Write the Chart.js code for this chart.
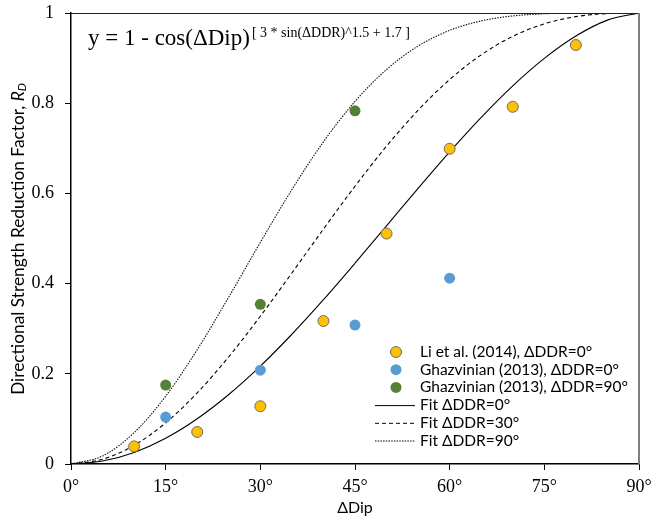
<!DOCTYPE html>
<html>
<head>
<meta charset="utf-8">
<script src="https://cdn.jsdelivr.net/npm/chart.js@4"></script>
<style>
html,body{margin:0;padding:0;background:#fff;}
#wrap{width:652px;height:521px;position:relative;}
</style>
</head>
<body>
<div id="wrap"><canvas id="c" width="652" height="521"></canvas></div>
<script>
// ---- data ----
const xTickLabels = ['0°','15°','30°','45°','60°','75°','90°'];
const yTickLabels = ['0','0.2','0.4','0.6','0.8','1'];

const liDip = [10, 20, 30, 40, 50, 60, 70, 80];
const liRD  = [0.039, 0.071, 0.128, 0.317, 0.511, 0.699, 0.792, 0.929];

const ghaz0Dip = [15, 30, 45, 60];
const ghaz0RD  = [0.104, 0.208, 0.308, 0.412];

const ghaz90Dip = [15, 30, 45];
const ghaz90RD  = [0.175, 0.354, 0.783];

const fitDip   = [0, 5, 10, 15, 20, 25, 30, 35, 40, 45, 50, 55, 60, 65, 70, 75, 80, 85, 90];
const fitDDR0  = [0, 0.0065, 0.0257, 0.0572, 0.1003, 0.1540, 0.2169, 0.2877, 0.3643, 0.4452, 0.5282, 0.6113, 0.6922, 0.7687, 0.8386, 0.8995, 0.9490, 0.9842, 1];
const fitDDR30 = [0, 0.0105, 0.0414, 0.0913, 0.1578, 0.2378, 0.3277, 0.4235, 0.5209, 0.6159, 0.7048, 0.7845, 0.8524, 0.9072, 0.9483, 0.9760, 0.9920, 0.9988, 1];
const fitDDR90 = [0, 0.0178, 0.0694, 0.1504, 0.2535, 0.3702, 0.4914, 0.6084, 0.7143, 0.8039, 0.8747, 0.9267, 0.9615, 0.9825, 0.9935, 0.9983, 0.9997, 1.0, 1];

const seriesNames = ['Li et al. (2014), ΔDDR=0°', 'Ghazvinian (2013), ΔDDR=0°', 'Ghazvinian (2013), ΔDDR=90°',
                     'Fit ΔDDR=0°', 'Fit ΔDDR=30°', 'Fit ΔDDR=90°'];

const pts = (xs, ys) => xs.map((x, i) => ({x: x, y: ys[i]}));

const SANS = 'Lato, "Open Sans", sans-serif';
const SERIF = '"Liberation Serif", "DejaVu Serif", serif';

const datasets = [
  {label: seriesNames[0], data: pts(liDip, liRD), showLine: false, pointRadius: 5.5, pointHoverRadius: 5.5,
   backgroundColor: '#FFC000', borderColor: '#6d6d6d', borderWidth: 1, order: 0},
  {label: seriesNames[1], data: pts(ghaz0Dip, ghaz0RD), showLine: false, pointRadius: 5.5, pointHoverRadius: 5.5,
   backgroundColor: '#5B9BD5', borderColor: '#5B9BD5', borderWidth: 0, order: 0},
  {label: seriesNames[2], data: pts(ghaz90Dip, ghaz90RD), showLine: false, pointRadius: 5.5, pointHoverRadius: 5.5,
   backgroundColor: '#548235', borderColor: '#548235', borderWidth: 0, order: 0},
  {label: seriesNames[3], data: pts(fitDip, fitDDR0), showLine: true, pointRadius: 0, borderColor: '#000', borderWidth: 1.1,
   cubicInterpolationMode: 'monotone', fill: false, order: 1},
  {label: seriesNames[4], data: pts(fitDip, fitDDR30), showLine: true, pointRadius: 0, borderColor: '#000', borderWidth: 1.1,
   borderDash: [4, 3], cubicInterpolationMode: 'monotone', fill: false, order: 1},
  {label: seriesNames[5], data: pts(fitDip, fitDDR90), showLine: true, pointRadius: 0, borderColor: '#111', borderWidth: 1.1,
   borderDash: [1.5, 1.2], cubicInterpolationMode: 'monotone', fill: false, order: 1}
];

const decor = {
  id: 'decor',
  afterDraw(chart) {
    const ctx = chart.ctx, a = chart.chartArea;
    ctx.save();
    // top & right frame
    ctx.strokeStyle = '#222'; ctx.lineWidth = 1;
    ctx.beginPath(); ctx.moveTo(a.left, a.top + 0.5); ctx.lineTo(a.right, a.top + 0.5); ctx.stroke();
    ctx.strokeStyle = '#7f7f7f'; ctx.lineWidth = 2;
    ctx.beginPath(); ctx.moveTo(a.right, a.top); ctx.lineTo(a.right, a.bottom); ctx.stroke();

    // equation
    ctx.fillStyle = '#000';
    ctx.textBaseline = 'alphabetic'; ctx.textAlign = 'left';
    ctx.font = '23px ' + SERIF;
    const eq = 'y = 1 - cos(ΔDip)';
    ctx.fillText(eq, 88, 45);
    const w = ctx.measureText(eq).width;
    ctx.font = '14px ' + SERIF;
    ctx.fillText('[ 3 * sin(ΔDDR)^1.5 + 1.7 ]', 88 + w + 2, 37);

    // x title
    ctx.font = '16px ' + SANS; ctx.textAlign = 'center'; ctx.textBaseline = 'middle';
    ctx.fillText('ΔDip', 355, 508);

    // y title (rotated)
    ctx.save();
    ctx.translate(18, 239);
    ctx.rotate(-Math.PI / 2);
    const main = 'Directional Strength Reduction Factor, ';
    ctx.font = '17.3px ' + SANS;
    const mw = ctx.measureText(main).width;
    ctx.font = 'italic 17.3px ' + SANS;
    const rw = ctx.measureText('R').width;
    ctx.font = 'italic 11.5px ' + SANS;
    const dw = ctx.measureText('D').width;
    let x0 = -(mw + rw + dw) / 2;
    ctx.textAlign = 'left'; ctx.textBaseline = 'middle';
    ctx.font = '17.3px ' + SANS; ctx.fillText(main, x0, 0);
    ctx.font = 'italic 17.3px ' + SANS; ctx.fillText('R', x0 + mw, 0);
    ctx.font = 'italic 11.5px ' + SANS; ctx.fillText('D', x0 + mw + rw, 4);
    ctx.restore();

    // legend
    const rows = [352, 369.7, 387.4, 405.1, 422.8, 440.5];
    ctx.font = '15.5px ' + SANS; ctx.textAlign = 'left'; ctx.textBaseline = 'middle';
    for (let i = 0; i < 6; i++) {
      const d = chart.data.datasets[i], y = rows[i];
      if (i < 3) {
        ctx.beginPath(); ctx.arc(396, y, 5.5, 0, Math.PI * 2);
        ctx.fillStyle = d.backgroundColor; ctx.fill();
        if (d.borderWidth) { ctx.lineWidth = d.borderWidth; ctx.strokeStyle = d.borderColor; ctx.stroke(); }
      } else {
        ctx.setLineDash(d.borderDash || []);
        ctx.lineWidth = 1; ctx.strokeStyle = '#000';
        ctx.beginPath(); ctx.moveTo(375, y + 0.5); ctx.lineTo(415, y + 0.5); ctx.stroke();
        ctx.setLineDash([]);
      }
      ctx.fillStyle = '#000';
      ctx.fillText(d.label, 420, y);
    }
    ctx.restore();
  }
};

new Chart(document.getElementById('c'), {
  type: 'scatter',
  data: {datasets: datasets},
  options: {
    responsive: false,
    animation: false,
    events: [],
    layout: {padding: {top: 13, right: 13, left: 0, bottom: 0}},
    plugins: {legend: {display: false}, tooltip: {enabled: false}},
    scales: {
      x: {
        type: 'linear', min: 0, max: 90,
        afterFit(s) { s.height = 57; s.paddingLeft = 0; s.paddingRight = 0; },
        afterBuildTicks(s) { s.ticks = xTickLabels.map((t, i) => ({value: i * 15})); },
        ticks: {callback: (v, i) => xTickLabels[i], font: {family: SERIF, size: 18}, color: '#000', padding: 6, maxRotation: 0},
        grid: {display: true, drawOnChartArea: false, drawTicks: true, tickLength: 6, tickColor: '#000', tickWidth: 1},
        border: {display: true, color: '#000', width: 1.5}
      },
      y: {
        type: 'linear', min: 0, max: 1,
        afterFit(s) { s.width = 71; s.paddingTop = 0; s.paddingBottom = 0; },
        afterBuildTicks(s) { s.ticks = yTickLabels.map((t, i) => ({value: i * 0.2})); },
        ticks: {callback: (v, i) => yTickLabels[i], font: {family: SERIF, size: 18}, color: '#000', padding: 11},
        grid: {display: true, drawOnChartArea: false, drawTicks: true, tickLength: 6, tickColor: '#000', tickWidth: 1},
        border: {display: true, color: '#000', width: 1.5}
      }
    }
  },
  plugins: [decor]
});
</script>
</body>
</html>
